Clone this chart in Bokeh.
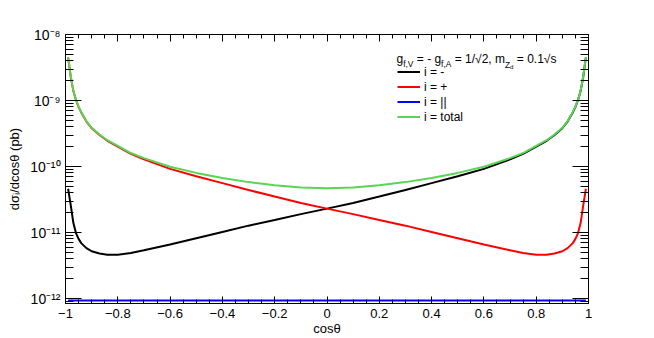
import math
from bokeh.plotting import figure
from bokeh.models import (Range1d, FixedTicker, LinearAxis, LogAxis, Label, Legend,
                          LegendItem, CustomJSTickFormatter, ColumnDataSource)
from bokeh.embed import file_html
from bokeh.resources import INLINE

# ---------------- data ----------------
cos_theta = [-0.99, -0.98, -0.97, -0.96, -0.95, -0.94, -0.92, -0.90, -0.87, -0.84,
             -0.80, -0.75, -0.70, -0.60, -0.50, -0.40, -0.30, -0.20, -0.10, 0.00,
             0.10, 0.20, 0.30, 0.40, 0.50, 0.60, 0.70, 0.75, 0.80, 0.84,
             0.87, 0.90, 0.92, 0.94, 0.95, 0.96, 0.97, 0.98, 0.99]

sigma_minus = [4.6e-11, 2.6e-11, 1.4e-11, 9.8e-12, 8.0e-12, 6.9e-12, 5.8e-12, 5.2e-12, 4.8e-12, 4.6e-12,
               4.6e-12, 4.9e-12, 5.4e-12, 6.6e-12, 8.2e-12, 1.02e-11, 1.27e-11, 1.55e-11, 1.9e-11, 2.3e-11,
               2.8e-11, 3.5e-11, 4.4e-11, 5.6e-11, 7.1e-11, 9.2e-11, 1.28e-10, 1.55e-10, 2.0e-10, 2.45e-10,
               3.0e-10, 3.8e-10, 4.8e-10, 6.6e-10, 8.0e-10, 1.02e-9, 1.4e-9, 2.3e-9, 4.5e-9]

sigma_plus = [4.5e-9, 2.3e-9, 1.4e-9, 1.02e-9, 8.0e-10, 6.6e-10, 4.8e-10, 3.8e-10, 3.0e-10, 2.45e-10,
              2.0e-10, 1.55e-10, 1.28e-10, 9.2e-11, 7.1e-11, 5.6e-11, 4.4e-11, 3.5e-11, 2.8e-11, 2.3e-11,
              1.9e-11, 1.55e-11, 1.27e-11, 1.02e-11, 8.2e-12, 6.6e-12, 5.4e-12, 4.9e-12, 4.6e-12, 4.6e-12,
              4.8e-12, 5.2e-12, 5.8e-12, 6.9e-12, 8.0e-12, 9.8e-12, 1.4e-11, 2.6e-11, 4.6e-11]

sigma_par = [9.3e-13] * 39

sigma_total = [4.55e-9, 2.33e-9, 1.41e-9, 1.03e-9, 8.1e-10, 6.7e-10, 4.86e-10, 3.85e-10, 3.05e-10, 2.5e-10,
               2.05e-10, 1.6e-10, 1.34e-10, 9.9e-11, 8.0e-11, 6.7e-11, 5.8e-11, 5.2e-11, 4.8e-11, 4.7e-11,
               4.8e-11, 5.2e-11, 5.8e-11, 6.7e-11, 8.0e-11, 9.9e-11, 1.34e-10, 1.6e-10, 2.05e-10, 2.5e-10,
               3.05e-10, 3.85e-10, 4.86e-10, 6.7e-10, 8.1e-10, 1.03e-9, 1.41e-9, 2.33e-9, 4.55e-9]

legend_labels = ["i = -", "i = +", "i = ||", "i = total"]
x_major_ticks = [-1, -0.8, -0.6, -0.4, -0.2, 0, 0.2, 0.4, 0.6, 0.8, 1]
y_decades = [-8, -9, -10, -11, -12]
x_title = "cos\u03b8"
y_title = "d\u03c3\u1d62/dcos\u03b8 (pb)"

# ---------------- layout helpers ----------------
FONT = "Liberation Sans"
W, H = 654, 338
YMIN, YMAX = 8.4e-13, 1e-8
FL, FR, FT, FB = 65, 588, 34, 303          # frame edges in page pixels
DEC = (FB - FT) / (math.log10(YMAX) - math.log10(YMIN))


def X(px):
    return -1 + (px - FL) * 2.0 / (FR - FL)


def Y(py):
    return 10 ** (math.log10(YMAX) - (py - FT) / DEC)


p = figure(width=W, height=H, x_range=Range1d(-1, 1), y_range=Range1d(YMIN, YMAX),
           y_axis_type="log", output_backend="svg", toolbar_location=None,
           min_border_left=FL, min_border_right=W - FR, min_border_top=FT, min_border_bottom=H - FB)
p.grid.visible = False
p.outline_line_color = "black"
p.outline_line_width = 1
p.background_fill_color = "white"
p.border_fill_color = "white"

src = ColumnDataSource(dict(x=cos_theta, m=sigma_minus, pl=sigma_plus, par=sigma_par, tot=sigma_total))
r_m = p.line("x", "m", source=src, line_color="black", line_width=2)
r_p = p.line("x", "pl", source=src, line_color="#ff0000", line_width=2)
r_par = p.line("x", "par", source=src, line_color="#0000ff", line_width=2)
r_t = p.line("x", "tot", source=src, line_color="#59d454", line_width=2)

# ---------------- axes ----------------
x_minor = [round(-1 + 0.05 * i, 2) for i in range(41)]
y_major = [10.0 ** n for n in y_decades]
y_minor = [k * 10.0 ** n for n in range(-13, -8) for k in range(2, 10) if YMIN <= k * 10.0 ** n <= YMAX]

xfmt = CustomJSTickFormatter(code="""
if (Math.abs(tick) < 1e-9) return "0";
if (Math.abs(Math.abs(tick) - 1) < 1e-9) return tick < 0 ? "\u22121" : "1";
const s = Math.abs(tick).toFixed(1);
return (tick < 0 ? "\u2212" : "") + s;
""")
yfmt = CustomJSTickFormatter(code="""
const sup = {"-": "\u207b", "0": "\u2070", "1": "\u00b9", "2": "\u00b2", "3": "\u00b3", "4": "\u2074",
             "5": "\u2075", "6": "\u2076", "7": "\u2077", "8": "\u2078", "9": "\u2079"};
const n = Math.round(Math.log10(tick));
return "10" + String(n).split("").map(c => sup[c]).join("");
""")
blank = CustomJSTickFormatter(code="return '';")

xa = p.xaxis[0]
xa.ticker = FixedTicker(ticks=x_major_ticks, minor_ticks=x_minor)
xa.formatter = xfmt
xa.axis_label = x_title
ya = p.yaxis[0]
ya.ticker = FixedTicker(ticks=y_major, minor_ticks=y_minor)
ya.formatter = yfmt
ya.axis_label = y_title

top = LinearAxis(ticker=FixedTicker(ticks=x_major_ticks, minor_ticks=x_minor), formatter=blank)
right = LogAxis(ticker=FixedTicker(ticks=y_major, minor_ticks=y_minor), formatter=blank)
p.add_layout(top, "above")
p.add_layout(right, "right")

for ax in (xa, top):
    ax.major_tick_in = 7
    ax.major_tick_out = 0
    ax.minor_tick_in = 4
    ax.minor_tick_out = 0
for ax in (ya, right):
    ax.major_tick_in = 16
    ax.major_tick_out = 0
    ax.minor_tick_in = 8
    ax.minor_tick_out = 0
for ax in (xa, ya, top, right):
    ax.axis_line_color = "black"
    ax.major_tick_line_color = "black"
    ax.minor_tick_line_color = "black"
    ax.major_label_text_font = FONT
    ax.major_label_text_color = "black"
    ax.major_label_text_font_size = "13px"
    ax.axis_label_text_font = FONT
    ax.axis_label_text_font_size = "13px"
    ax.axis_label_text_font_style = "normal"
    ax.axis_label_text_color = "black"
xa.major_label_standoff = 5
xa.axis_label_standoff = 0
ya.major_label_standoff = 5
ya.axis_label_standoff = 5
ya.major_label_text_font_size = "14px"
top.major_label_standoff = 0
right.major_label_standoff = 0

# legend header with subscripts
header = [("g", 396, 58.5, "12px"), ("f,V", 402.7, 63.3, "8.4px"), ("= - g", 416.3, 58.5, "12px"),
          ("f,A", 440.6, 63.3, "8.4px"), ("= 1/\u221a2, m", 454.2, 58.5, "12px"),
          ("Z", 504.5, 64.5, "8.4px"), ("d", 509.6, 66.5, "6px"), ("= 0.1\u221as", 516.3, 58.5, "12px")]
for t, hx, hy, fs in header:
    p.add_layout(Label(x=X(hx), y=Y(hy), text=t, text_font=FONT, text_font_size=fs,
                       text_align="left", text_baseline="alphabetic", text_color="black"))

legend = Legend(items=[LegendItem(label=legend_labels[0], renderers=[r_m]),
                       LegendItem(label=legend_labels[1], renderers=[r_p]),
                       LegendItem(label=legend_labels[2], renderers=[r_par]),
                       LegendItem(label=legend_labels[3], renderers=[r_t])],
                location=(332, 179), glyph_width=23, glyph_height=15, label_height=15,
                label_standoff=4, spacing=0, padding=0, margin=0,
                border_line_alpha=0, background_fill_alpha=0,
                label_text_font=FONT, label_text_font_size="12px", label_text_color="black")
p.add_layout(legend)

open("out.html", "w").write(file_html(p, INLINE))
